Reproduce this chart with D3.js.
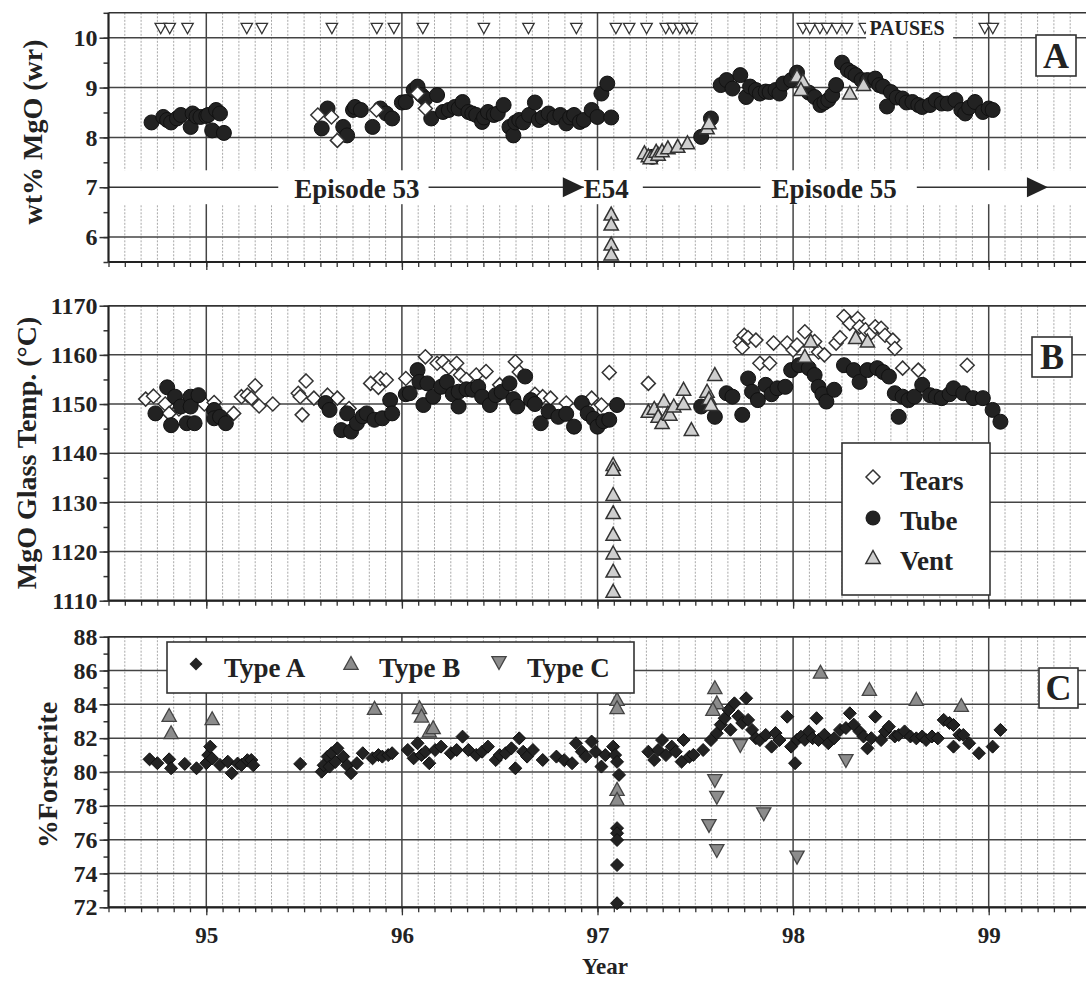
<!DOCTYPE html>
<html>
<head>
<meta charset="utf-8">
<script src="https://d3js.org/d3.v7.min.js"></script>
<style>
  body { margin: 0; background: #fff; }
  svg text { font-family: "Liberation Serif", "Times New Roman", serif; font-weight: bold; fill: #222; }
</style>
</head>
<body>
<svg id="chart" width="1086" height="981"></svg>
<script>
"use strict";

// ---------- data (year, value) ----------
var yearTicks = [95, 96, 97, 98, 99];
var mgoTicks = [6, 7, 8, 9, 10];
var tempTicks = [1110, 1120, 1130, 1140, 1150, 1160, 1170];
var foTicks = [72, 74, 76, 78, 80, 82, 84, 86, 88];

var pauseLevel = 10.2;
var pauseYears = [94.767, 94.813, 94.904, 95.207, 95.284, 95.642, 95.872, 95.959, 96.107, 96.419,
  96.647, 96.892, 97.094, 97.162, 97.251, 97.349, 97.385, 97.421, 97.457, 97.482,
  98.05, 98.086, 98.137, 98.173, 98.224, 98.275, 98.367, 98.98, 99.021];

var tubeMgO = [
  [94.72, 8.30], [94.78, 8.41], [94.80, 8.35], [94.82, 8.30], [94.85, 8.38], [94.87, 8.45], [94.92, 8.21],
  [94.93, 8.48], [94.95, 8.42], [94.97, 8.41], [95.00, 8.43], [95.01, 8.45], [95.05, 8.55], [95.07, 8.48],
  [95.03, 8.14], [95.09, 8.09],
  [95.59, 8.18], [95.62, 8.58], [95.70, 8.21], [95.72, 8.04], [95.75, 8.55], [95.76, 8.61], [95.79, 8.55],
  [95.85, 8.21], [95.89, 8.58], [95.92, 8.48], [95.95, 8.38],
  [96.00, 8.70], [96.02, 8.71], [96.06, 8.95], [96.08, 9.02], [96.10, 8.85], [96.12, 8.78], [96.15, 8.38],
  [96.18, 8.85], [96.21, 8.51], [96.24, 8.55], [96.27, 8.61], [96.29, 8.58], [96.31, 8.71], [96.34, 8.51],
  [96.36, 8.48], [96.38, 8.45], [96.41, 8.31], [96.42, 8.40], [96.44, 8.51], [96.47, 8.45], [96.49, 8.48],
  [96.52, 8.65], [96.55, 8.21], [96.57, 8.04], [96.58, 8.30], [96.60, 8.35], [96.62, 8.30], [96.65, 8.45],
  [96.68, 8.70], [96.70, 8.35], [96.72, 8.40], [96.75, 8.48], [96.78, 8.40], [96.81, 8.45], [96.84, 8.28],
  [96.86, 8.40], [96.88, 8.45], [96.91, 8.31], [96.93, 8.35], [96.97, 8.55], [97.00, 8.41], [97.02, 8.88],
  [97.05, 9.08], [97.07, 8.40],
  [97.28, 7.61], [97.53, 8.01], [97.58, 8.38],
  [97.63, 9.05], [97.66, 9.15], [97.69, 8.98], [97.73, 9.25], [97.76, 8.81], [97.78, 9.02], [97.81, 8.95],
  [97.83, 8.88], [97.86, 8.92], [97.88, 8.91], [97.91, 8.95], [97.93, 8.88], [97.95, 9.08], [97.99, 9.15],
  [98.02, 9.30], [98.08, 8.90], [98.11, 8.81], [98.14, 8.65], [98.16, 8.70], [98.18, 8.75], [98.20, 8.85],
  [98.22, 9.05], [98.25, 9.50], [98.28, 9.35], [98.30, 9.30], [98.32, 9.25], [98.35, 9.15], [98.38, 9.15],
  [98.42, 9.18], [98.44, 9.05], [98.46, 9.02], [98.48, 8.62], [98.50, 8.91], [98.53, 8.80], [98.56, 8.78],
  [98.58, 8.70], [98.61, 8.71], [98.64, 8.65], [98.66, 8.61], [98.70, 8.65], [98.73, 8.75], [98.76, 8.68],
  [98.79, 8.68], [98.83, 8.75], [98.86, 8.55], [98.88, 8.48], [98.90, 8.60], [98.93, 8.71], [98.97, 8.51],
  [99.00, 8.58], [99.02, 8.55]
];
var tearsMgO = [[95.57, 8.45], [95.64, 8.41], [95.67, 7.94], [95.87, 8.55], [96.08, 8.88], [96.12, 8.58]];
var ventMgO = [
  [97.07, 6.45], [97.07, 6.25], [97.07, 5.85], [97.07, 5.65],
  [97.24, 7.68], [97.26, 7.62], [97.27, 7.58], [97.30, 7.71], [97.31, 7.65], [97.33, 7.72], [97.36, 7.78],
  [97.41, 7.81], [97.46, 7.88], [97.56, 8.18], [97.57, 8.28],
  [98.02, 9.22], [98.05, 9.12], [98.04, 8.95], [98.29, 8.88], [98.36, 9.05]
];

var tearsTemp = [
  [94.69, 1151.0], [94.73, 1151.6], [94.79, 1150.0], [94.81, 1148.1], [94.86, 1149.0], [94.99, 1150.0],
  [95.04, 1150.3], [95.14, 1148.1], [95.18, 1151.5], [95.21, 1151.8], [95.23, 1151.2], [95.25, 1153.7],
  [95.27, 1149.6], [95.34, 1150.0],
  [95.47, 1152.2], [95.48, 1151.5], [95.49, 1147.8], [95.51, 1154.7], [95.55, 1151.2], [95.62, 1151.8],
  [95.67, 1151.2], [95.73, 1149.1], [95.84, 1154.2], [95.88, 1153.4], [95.89, 1155.2], [95.92, 1154.9],
  [96.02, 1155.2], [96.12, 1159.6], [96.18, 1158.3], [96.21, 1158.6], [96.24, 1157.5], [96.28, 1158.3],
  [96.30, 1155.9], [96.33, 1155.0], [96.38, 1155.9], [96.43, 1156.6], [96.50, 1153.9], [96.58, 1158.6],
  [96.60, 1156.5], [96.68, 1152.0], [96.72, 1151.5], [96.76, 1151.2], [96.84, 1150.2], [96.97, 1151.2],
  [97.02, 1149.8], [97.06, 1156.4], [97.26, 1154.2],
  [97.73, 1162.7], [97.74, 1161.5], [97.75, 1164.0], [97.77, 1163.5], [97.81, 1163.0], [97.83, 1158.3],
  [97.88, 1158.3], [97.90, 1162.4], [97.97, 1162.4], [98.00, 1161.0], [98.02, 1162.0], [98.06, 1164.7],
  [98.11, 1162.7], [98.13, 1160.6], [98.16, 1160.0], [98.22, 1162.4], [98.24, 1163.5], [98.26, 1167.8],
  [98.29, 1166.4], [98.33, 1167.4], [98.34, 1165.7], [98.37, 1165.1], [98.40, 1164.5], [98.42, 1165.7],
  [98.45, 1165.4], [98.47, 1164.0], [98.51, 1163.0], [98.52, 1161.3], [98.56, 1157.3], [98.64, 1156.9],
  [98.89, 1157.9]
];
var tubeTemp = [
  [94.74, 1148.1], [94.80, 1153.4], [94.82, 1145.7], [94.84, 1151.5], [94.87, 1149.5], [94.90, 1146.1],
  [94.92, 1151.5], [94.92, 1149.5], [94.94, 1146.1], [94.96, 1151.8], [95.04, 1148.8], [95.04, 1147.1],
  [95.07, 1147.4], [95.10, 1146.1],
  [95.61, 1150.2], [95.63, 1148.8], [95.69, 1144.7], [95.72, 1148.1], [95.74, 1144.4], [95.77, 1146.1],
  [95.80, 1147.5], [95.82, 1148.1], [95.86, 1146.8], [95.90, 1147.1], [95.94, 1150.8], [95.95, 1148.1],
  [96.02, 1152.0], [96.04, 1152.2], [96.08, 1156.9], [96.09, 1154.5], [96.11, 1149.8], [96.13, 1154.2],
  [96.16, 1151.5], [96.20, 1153.5], [96.23, 1154.5], [96.26, 1152.0], [96.29, 1149.5], [96.29, 1152.5],
  [96.33, 1153.0], [96.36, 1152.9], [96.39, 1153.5], [96.41, 1151.5], [96.45, 1149.8], [96.48, 1151.8],
  [96.51, 1152.5], [96.55, 1154.2], [96.57, 1151.0], [96.59, 1149.5], [96.63, 1155.6], [96.66, 1150.8],
  [96.68, 1150.0], [96.71, 1146.1], [96.75, 1148.5], [96.80, 1147.4], [96.84, 1148.0], [96.88, 1145.4],
  [96.92, 1150.2], [96.95, 1148.1], [96.98, 1147.0], [97.00, 1145.4], [97.03, 1146.5], [97.06, 1146.8],
  [97.10, 1149.8],
  [97.53, 1149.5], [97.60, 1147.4], [97.66, 1152.2], [97.69, 1151.5], [97.74, 1147.8], [97.77, 1155.2],
  [97.79, 1152.5], [97.82, 1150.8], [97.86, 1153.9], [97.89, 1152.0], [97.92, 1153.2], [97.96, 1153.5],
  [97.99, 1156.9], [98.03, 1157.9], [98.08, 1157.3], [98.11, 1155.9], [98.13, 1153.5], [98.15, 1152.0],
  [98.17, 1150.5], [98.21, 1152.9], [98.26, 1157.9], [98.31, 1156.9], [98.34, 1154.5], [98.38, 1156.9],
  [98.43, 1157.3], [98.46, 1156.5], [98.49, 1155.6], [98.52, 1152.2], [98.54, 1147.4], [98.56, 1151.5],
  [98.59, 1150.8], [98.62, 1151.5], [98.66, 1153.9], [98.70, 1151.8], [98.73, 1151.5], [98.76, 1151.2],
  [98.80, 1152.0], [98.82, 1153.2], [98.87, 1152.2], [98.92, 1151.2], [98.97, 1151.2], [99.02, 1148.8],
  [99.06, 1146.4]
];
var ventTemp = [
  [97.08, 1137.6], [97.08, 1136.6], [97.08, 1131.5], [97.08, 1127.8], [97.08, 1123.4], [97.08, 1119.6],
  [97.08, 1115.9], [97.08, 1111.8],
  [97.26, 1148.4], [97.29, 1149.0], [97.31, 1147.4], [97.33, 1146.1], [97.34, 1150.5], [97.36, 1148.0],
  [97.37, 1147.8], [97.39, 1149.5], [97.44, 1152.9], [97.44, 1150.0], [97.48, 1144.7], [97.56, 1152.5],
  [97.57, 1151.0], [97.58, 1149.8], [97.60, 1155.9],
  [98.06, 1159.6], [98.09, 1162.7], [98.32, 1163.4], [98.38, 1162.7]
];

var typeA = [
  [94.71, 80.75], [94.75, 80.52], [94.81, 80.75], [94.82, 80.22], [94.89, 80.48], [94.95, 80.22],
  [95.00, 80.52], [95.01, 81.00], [95.02, 81.50], [95.03, 80.80], [95.07, 80.42], [95.11, 80.61],
  [95.13, 79.93], [95.16, 80.50], [95.18, 80.42], [95.21, 80.70], [95.23, 80.71], [95.24, 80.40],
  [95.48, 80.48], [95.59, 80.02], [95.60, 80.40], [95.62, 80.91], [95.63, 80.32], [95.64, 81.11],
  [95.66, 80.60], [95.67, 81.40], [95.70, 80.91], [95.72, 80.40], [95.74, 79.93], [95.77, 80.52],
  [95.80, 81.11], [95.85, 80.81], [95.88, 81.00], [95.90, 80.91], [95.93, 81.00], [95.95, 81.11],
  [96.03, 81.30], [96.06, 80.81], [96.08, 81.70], [96.10, 81.00], [96.12, 81.20], [96.14, 80.52],
  [96.17, 81.30], [96.20, 81.50], [96.25, 81.11], [96.28, 81.30], [96.31, 82.09], [96.34, 81.30],
  [96.38, 81.01], [96.41, 81.20], [96.44, 81.50], [96.48, 80.71], [96.50, 81.00], [96.53, 81.11],
  [96.56, 81.40], [96.58, 80.22], [96.60, 81.99], [96.62, 81.20], [96.64, 80.91], [96.67, 81.30],
  [96.72, 80.71], [96.79, 80.91], [96.83, 80.70], [96.87, 80.52], [96.89, 81.70], [96.92, 81.20],
  [96.94, 80.91], [96.97, 81.80], [96.99, 81.20], [97.02, 80.32], [97.04, 81.00], [97.08, 81.50],
  [97.09, 81.00], [97.10, 80.60], [97.11, 79.83], [97.10, 76.68], [97.10, 76.38], [97.10, 75.98],
  [97.10, 74.50], [97.10, 72.24],
  [97.26, 81.20], [97.29, 80.71], [97.31, 81.30], [97.33, 81.89], [97.35, 81.00], [97.38, 81.50],
  [97.40, 81.20], [97.43, 80.61], [97.44, 81.89], [97.47, 80.90], [97.49, 81.01], [97.54, 81.30],
  [97.58, 81.89], [97.61, 82.29], [97.63, 82.80], [97.65, 83.18], [97.67, 83.67], [97.68, 82.50],
  [97.70, 84.06], [97.72, 83.30], [97.74, 82.90], [97.76, 84.36], [97.77, 83.08], [97.79, 82.49],
  [97.81, 82.00], [97.83, 81.89], [97.86, 82.19], [97.89, 81.50], [97.91, 82.30], [97.93, 81.89],
  [97.97, 83.27], [97.99, 81.50], [98.01, 80.52], [98.02, 81.90], [98.04, 82.09], [98.06, 81.90],
  [98.08, 82.39], [98.10, 82.00], [98.12, 83.18], [98.13, 81.89], [98.16, 82.20], [98.18, 81.70],
  [98.21, 82.00], [98.24, 82.49], [98.27, 82.60], [98.29, 83.47], [98.31, 82.80], [98.34, 82.39],
  [98.36, 82.10], [98.38, 81.40], [98.40, 82.00], [98.42, 83.27], [98.45, 81.89], [98.47, 82.40],
  [98.49, 82.68], [98.52, 82.10], [98.54, 82.19], [98.57, 82.40], [98.60, 82.10], [98.63, 81.99],
  [98.66, 82.10], [98.68, 81.89], [98.71, 82.10], [98.74, 81.99], [98.77, 83.08], [98.80, 82.90],
  [98.82, 82.78], [98.82, 81.50], [98.85, 82.20], [98.87, 82.19], [98.90, 81.70], [98.95, 81.11],
  [99.02, 81.50], [99.06, 82.49]
];
var typeB = [
  [94.81, 83.31], [94.82, 82.29], [95.03, 83.12], [95.86, 83.73], [96.09, 83.77], [96.10, 83.27],
  [96.14, 82.39], [96.16, 82.59], [97.10, 84.26], [97.10, 83.77], [97.10, 78.94], [97.10, 78.35],
  [97.60, 84.95], [97.61, 84.06], [97.59, 83.67], [98.14, 85.87], [98.39, 84.85], [98.63, 84.26],
  [98.86, 83.90]
];
var typeC = [
  [97.73, 81.60], [97.60, 79.53], [97.61, 78.54], [97.57, 76.87], [97.61, 75.39], [97.85, 77.56],
  [98.02, 75.00], [98.27, 80.71]
];

// ---------- setup ----------
var w = 1086, h = 981;
var svg = d3.select("#chart");
var fontFam = '"Liberation Serif", "Times New Roman", serif';

var x = d3.scaleLinear().domain([94.5, 99.5]).range([108.5, 1086.5]);
var months = d3.range(0, 61).map(function (k) { return 94.5 + k / 12; });
var minorMonths = months.filter(function (m, i) { return i % 12 !== 6; });

var yA = d3.scaleLinear().domain([5.5, 10.5]).range([262, 12.8]);
var yB = d3.scaleLinear().domain([1110, 1170]).range([600.7, 305.7]);
var yC = d3.scaleLinear().domain([72, 88]).range([907.3, 636.7]);

var diamond = function (s) {
  return "M0," + (-s) + "L" + s + ",0L0," + s + "L" + (-s) + ",0Z";
};
var triUp = function (s) {
  return "M0," + (-s) + "L" + (s * 0.95) + "," + (s * 0.72) + "L" + (-s * 0.95) + "," + (s * 0.72) + "Z";
};
var triDown = function (s) {
  return "M0," + s + "L" + (s * 0.95) + "," + (-s * 0.72) + "L" + (-s * 0.95) + "," + (-s * 0.72) + "Z";
};

/**
 * Grid lines, frame and axes of one panel.
 */
var drawFrame = function (y, major, minor, labels) {
  var g = svg.append("g");
  var x0 = x.range()[0], x1 = x.range()[1];
  var yTop = y.range()[1], yBot = y.range()[0];

  g.selectAll(".mg").data(minorMonths).enter().append("line")
    .attr("x1", x).attr("x2", x).attr("y1", yTop).attr("y2", yBot)
    .attr("stroke", "#a8a8a8").attr("stroke-width", 1).attr("stroke-dasharray", "2,1.5");
  g.selectAll(".yg").data(yearTicks).enter().append("line")
    .attr("x1", x).attr("x2", x).attr("y1", yTop).attr("y2", yBot)
    .attr("stroke", "#444").attr("stroke-width", 1.5);
  g.selectAll(".hg").data(major).enter().append("line")
    .attr("x1", x0).attr("x2", x1).attr("y1", y).attr("y2", y)
    .attr("stroke", "#444").attr("stroke-width", 1.5);

  // left axis
  var la = g.append("g").attr("transform", "translate(" + x0 + ",0)");
  la.append("g").call(d3.axisLeft(y).tickValues(minor).tickSize(5).tickFormat(""));
  la.append("g").call(d3.axisLeft(y).tickValues(major).tickSize(9).tickPadding(2).tickFormat(d3.format("d")))
    .attr("font-size", 24).attr("font-family", fontFam);
  la.selectAll("path.domain").remove();
  la.selectAll("line").attr("stroke", "#333").attr("stroke-width", 1.5);

  // bottom axis
  var ba = g.append("g").attr("transform", "translate(0," + yBot + ")");
  ba.append("g").call(d3.axisBottom(x).tickValues(months).tickSize(5).tickFormat(""));
  var yl = ba.append("g").call(d3.axisBottom(x).tickValues(yearTicks).tickSize(8)
    .tickFormat(labels ? d3.format("d") : ""))
    .attr("font-size", 23).attr("font-family", fontFam);
  yl.selectAll("text").attr("y", 36).attr("dy", null);
  ba.selectAll("path.domain").remove();
  ba.selectAll("line").attr("stroke", "#333").attr("stroke-width", 1.3);

  return g;
};

var drawBorder = function (y) {
  var x0 = x.range()[0], x1 = x.range()[1];
  var yTop = y.range()[1], yBot = y.range()[0];
  svg.append("line").attr("x1", x0).attr("x2", x1).attr("y1", yTop).attr("y2", yTop)
    .attr("stroke", "#333").attr("stroke-width", 1.6);
  svg.append("line").attr("x1", x0).attr("x2", x1).attr("y1", yBot).attr("y2", yBot)
    .attr("stroke", "#222").attr("stroke-width", 2.2);
  svg.append("line").attr("x1", x0).attr("x2", x0).attr("y1", yTop).attr("y2", yBot)
    .attr("stroke", "#222").attr("stroke-width", 2.2);
};

var panelBox = function (bx, by, bw, bh, label) {
  svg.append("rect").attr("x", bx).attr("y", by).attr("width", bw).attr("height", bh)
    .attr("fill", "#fff").attr("stroke", "#333").attr("stroke-width", 1.6);
  svg.append("text").attr("x", bx + bw / 2).attr("y", by + bh - 8).attr("text-anchor", "middle")
    .attr("font-size", 36).text(label);
};

var yTitle = function (tx, ty, label) {
  svg.append("text").attr("transform", "translate(" + tx + "," + ty + ") rotate(-90)")
    .attr("text-anchor", "middle").attr("font-size", 28).text(label);
};

var plotCircles = function (data, y) {
  svg.append("g").selectAll("circle").data(data).enter().append("circle")
    .attr("cx", function (d) { return x(d[0]); })
    .attr("cy", function (d) { return y(d[1]); })
    .attr("r", 7.5).attr("fill", "#222").attr("stroke", "#111").attr("stroke-width", 1);
};
var plotShapes = function (data, y, path, fill, stroke, sw) {
  svg.append("g").selectAll("path").data(data).enter().append("path")
    .attr("transform", function (d) { return "translate(" + x(d[0]) + "," + y(d[1]) + ")"; })
    .attr("d", path).attr("fill", fill).attr("stroke", stroke).attr("stroke-width", sw);
};

// ---------- panel A ----------
drawFrame(yA, mgoTicks, d3.range(5.5, 10.51, 0.5), false);
// white band for the episode row
svg.append("rect").attr("x", x.range()[0] + 1.5).attr("y", yA(7.34))
  .attr("width", x.range()[1] - x.range()[0]).attr("height", yA(6.66) - yA(7.34)).attr("fill", "#fff");
svg.append("line").attr("x1", x.range()[0]).attr("x2", x.range()[1]).attr("y1", yA(7)).attr("y2", yA(7))
  .attr("stroke", "#333").attr("stroke-width", 1.5);
drawBorder(yA);

var episodeLabel = function (xc, anchor, label, padL, padR) {
  var t = svg.append("text").attr("x", xc).attr("y", yA(7) + 10.5).attr("text-anchor", anchor)
    .attr("font-size", 27).text(label);
  var bb = t.node().getBBox();
  svg.insert("rect", function () { return t.node(); })
    .attr("x", bb.x - padL).attr("y", bb.y).attr("width", bb.width + padL + padR).attr("height", bb.height)
    .attr("fill", "#fff");
};
episodeLabel(x(95.77), "middle", "Episode 53", 16, 9);
episodeLabel(x(96.93), "start", "E54", 0, 14);
episodeLabel(x(98.21), "middle", "Episode 55", 11, 20);
[96.93, 99.303].forEach(function (tip) {
  var tx = x(tip), ty = yA(7);
  svg.append("path").attr("d", "M" + tx + "," + ty + "L" + (tx - 21) + "," + (ty - 10) + "L" + (tx - 21) + "," + (ty + 10) + "Z")
    .attr("fill", "#222");
});

plotCircles(tubeMgO, yA);
plotShapes(tearsMgO, yA, diamond(7), "#fff", "#333", 1.5);
plotShapes(ventMgO, yA, triUp(7.5), "#cfcfcf", "#333", 1.5);

// pauses
plotShapes(pauseYears.map(function (p) { return [p, pauseLevel]; }), yA, triDown(6), "#fff", "#333", 1.3);
svg.append("rect").attr("x", x(98.373)).attr("y", 14).attr("width", x(98.818) - x(98.373)).attr("height", 27)
  .attr("fill", "#fff");
svg.append("text").attr("x", x(98.39)).attr("y", 35).attr("font-size", 20).text("PAUSES");
panelBox(1036, 35, 40, 41, "A");
yTitle(42, 132, "wt% MgO (wr)");

// ---------- panel B ----------
drawFrame(yB, tempTicks, d3.range(1110, 1171, 5), false);
drawBorder(yB);
plotShapes(tearsTemp, yB, diamond(7), "#fff", "#333", 1.5);
plotCircles(tubeTemp, yB);
plotShapes(ventTemp, yB, triUp(7.5), "#cfcfcf", "#333", 1.5);
panelBox(1032, 337, 40, 40, "B");
yTitle(36, 453, "MgO Glass Temp. (\u00B0C)");

// legend B
var legB = svg.append("g");
legB.append("rect").attr("x", 842).attr("y", 443).attr("width", 148).attr("height", 152)
  .attr("fill", "#fff").attr("stroke", "#333").attr("stroke-width", 1.6);
legB.append("path").attr("transform", "translate(873,477)").attr("d", diamond(7))
  .attr("fill", "#fff").attr("stroke", "#333").attr("stroke-width", 1.5);
legB.append("circle").attr("cx", 873).attr("cy", 518).attr("r", 7.5).attr("fill", "#222");
legB.append("path").attr("transform", "translate(873,558)").attr("d", triUp(7.5))
  .attr("fill", "#cfcfcf").attr("stroke", "#333").attr("stroke-width", 1.5);
[["Tears", 490], ["Tube", 530], ["Vent", 570]].forEach(function (it) {
  legB.append("text").attr("x", 900).attr("y", it[1]).attr("font-size", 27).text(it[0]);
});

// ---------- panel C ----------
drawFrame(yC, foTicks, d3.range(72, 88.1, 1), true);
drawBorder(yC);
plotShapes(typeA, yC, diamond(6.5), "#222", "#111", 1);
plotShapes(typeB, yC, triUp(7.5), "#8c8c8c", "#444", 1.3);
plotShapes(typeC, yC, triDown(7.5), "#8c8c8c", "#444", 1.3);
panelBox(1039, 668, 39, 40, "C");
yTitle(57, 775, "%Forsterite");

// legend C
var legC = svg.append("g");
legC.append("rect").attr("x", 167).attr("y", 642).attr("width", 467).attr("height", 51)
  .attr("fill", "#fff").attr("stroke", "#333").attr("stroke-width", 1.6);
legC.append("path").attr("transform", "translate(196,664)").attr("d", diamond(6.5)).attr("fill", "#222");
legC.append("path").attr("transform", "translate(351,664)").attr("d", triUp(7.5))
  .attr("fill", "#8c8c8c").attr("stroke", "#444").attr("stroke-width", 1.3);
legC.append("path").attr("transform", "translate(499,662)").attr("d", triDown(7.5))
  .attr("fill", "#8c8c8c").attr("stroke", "#444").attr("stroke-width", 1.3);
[["Type A", 224], ["Type B", 379], ["Type C", 527]].forEach(function (it) {
  legC.append("text").attr("x", it[1]).attr("y", 677).attr("font-size", 27).text(it[0]);
});

svg.append("text").attr("x", 605).attr("y", 974).attr("text-anchor", "middle").attr("font-size", 23).text("Year");
</script>
</body>
</html>
